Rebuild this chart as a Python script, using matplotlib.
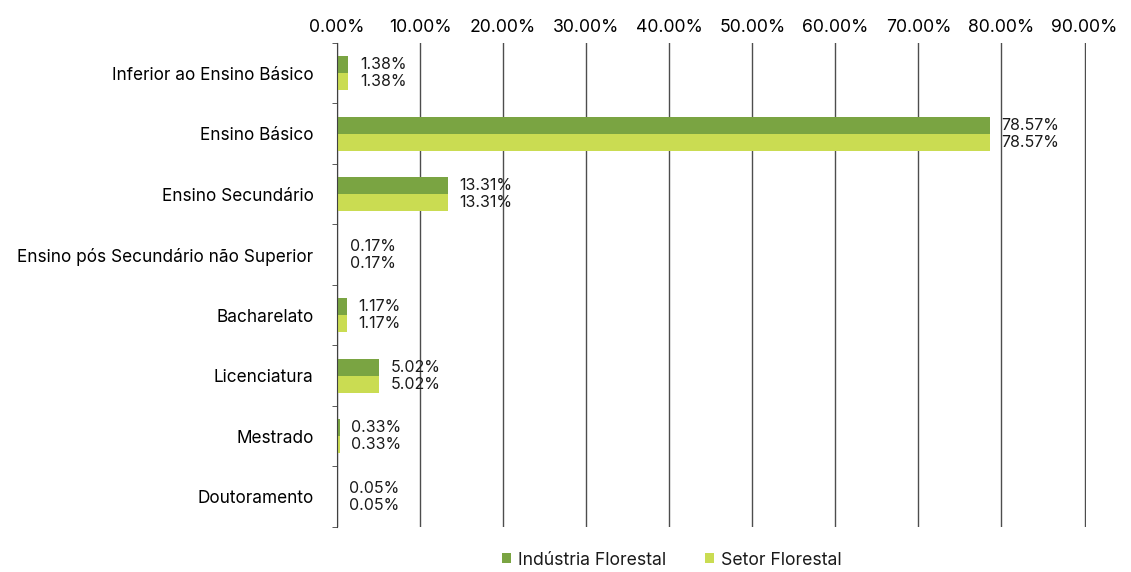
import matplotlib.pyplot as plt
import numpy as np

# niveis de escolaridade (de cima para baixo)
categorias = ['Inferior ao Ensino Básico', 'Ensino Básico', 'Ensino Secundário',
              'Ensino pós Secundário não Superior', 'Bacharelato', 'Licenciatura',
              'Mestrado', 'Doutoramento']
industria = [1.38, 78.57, 13.31, 0.17, 1.17, 5.02, 0.33, 0.05]
setor = [1.38, 78.57, 13.31, 0.17, 1.17, 5.02, 0.33, 0.05]
series = ['Indústria Florestal', 'Setor Florestal']
cores = ['#7AA442', '#CADC52']

plt.rcParams['font.family'] = ['Inter', 'DejaVu Sans']
plt.rcParams['text.color'] = '#1a1a1a'

fig = plt.figure(figsize=(11.31, 5.72), dpi=100)
ax = fig.add_axes([0.298, 0.079, 0.662, 0.846])

y = np.arange(len(categorias))
h = 0.28
b1 = ax.barh(y - h / 2, industria, height=h, color=cores[0], label=series[0], zorder=3)
b2 = ax.barh(y + h / 2, setor, height=h, color=cores[1], label=series[1], zorder=3)

for barras, vals in [(b1, industria), (b2, setor)]:
    for r, v in zip(barras, vals):
        ax.text(v + 1.4, r.get_y() + r.get_height() / 2, f'{v:.2f}%',
                va='center', ha='left', fontsize=11.5, zorder=2)

ax.set_xlim(0, 90.15)
ax.set_ylim(len(categorias) - 0.5, -0.5)
ax.set_xticks(np.arange(0, 91, 10))
ax.set_xticklabels([f'{v:.2f}%' for v in np.arange(0, 91, 10)], fontsize=12.7)
ax.xaxis.tick_top()
ax.tick_params(axis='x', length=0, pad=5)

ax.set_yticks(y)
ax.set_yticklabels(categorias, fontsize=12.4)
ax.set_yticks(np.arange(-0.5, len(categorias)), minor=True)
ax.tick_params(axis='y', which='major', length=0, pad=17)
ax.tick_params(axis='y', which='minor', length=3.5, color='#404040', direction='out')

ax.grid(axis='x', color='#4d4d4d', linewidth=1, zorder=2.5)
for lado in ['top', 'right', 'bottom']:
    ax.spines[lado].set_visible(False)
ax.spines['left'].set_color('#404040')
ax.spines['left'].set_zorder(5)

fig.legend(handles=[b1, b2], labels=series, loc='lower center', ncol=2,
           bbox_to_anchor=(0.594, -0.022), frameon=False, fontsize=12.7,
           handlelength=0.5, handleheight=0.5, handletextpad=0.4, columnspacing=2.2)

fig.savefig('out.png', dpi=100)
